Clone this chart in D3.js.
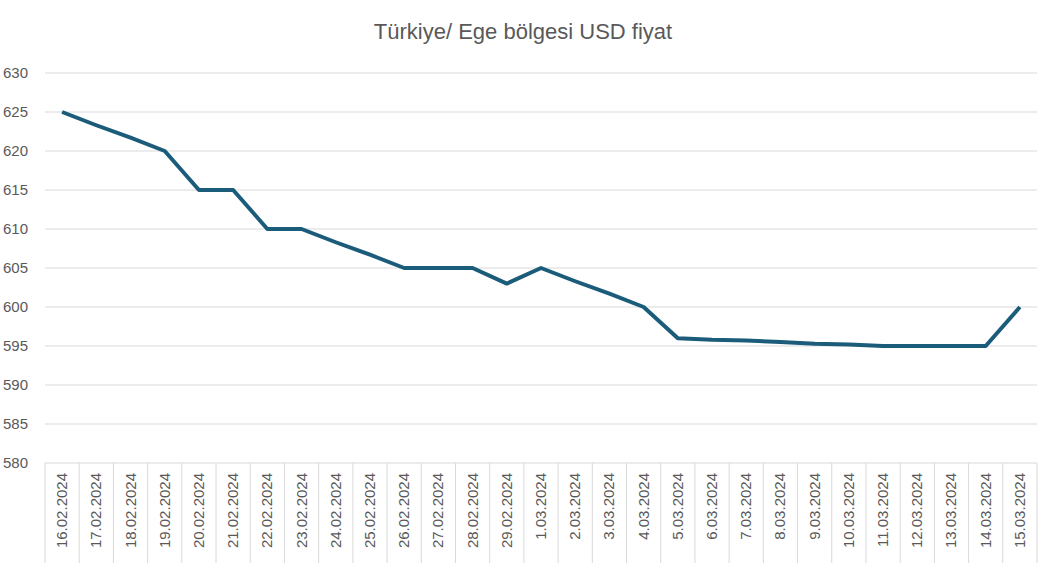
<!DOCTYPE html>
<html><head><meta charset="utf-8">
<script src="https://cdn.jsdelivr.net/npm/d3@7"></script>
<style>body{margin:0;background:#fff}svg{font-family:"Liberation Sans",Arial,sans-serif}</style>
</head><body><div id="chart"></div>
<script>
var dates = ["16.02.2024","17.02.2024","18.02.2024","19.02.2024","20.02.2024","21.02.2024","22.02.2024","23.02.2024","24.02.2024","25.02.2024","26.02.2024","27.02.2024","28.02.2024","29.02.2024","1.03.2024","2.03.2024","3.03.2024","4.03.2024","5.03.2024","6.03.2024","7.03.2024","8.03.2024","9.03.2024","10.03.2024","11.03.2024","12.03.2024","13.03.2024","14.03.2024","15.03.2024"];
var prices = [625,623.3,621.7,620,615,615,610,610,608.3,606.7,605,605,605,603,605,603.3,601.7,600,596,595.8,595.7,595.5,595.3,595.2,595,595,595,595,600];
var yTicks = [580,585,590,595,600,605,610,615,620,625,630];

var w = 1049, h = 573;
var svg = d3.select("#chart").append("svg").attr("width", w).attr("height", h);

var x = d3.scaleBand().domain(dates).range([45, 1037]);
var y = d3.scaleLinear().domain([580, 630]).range([463, 73]);

// title
svg.append("text").attr("x", 523).attr("y", 39).attr("text-anchor", "middle")
	.attr("font-size", 22).attr("fill", "#595959").text("Türkiye/ Ege bölgesi USD fiyat");

// grid
svg.selectAll(".grid").data(yTicks).enter().append("line")
	.attr("x1", 45).attr("x2", 1037)
	.attr("y1", function(d){ return y(d); }).attr("y2", function(d){ return y(d); })
	.attr("stroke", "#d9d9d9").attr("stroke-width", 1);

// y labels
svg.selectAll(".ylab").data(yTicks).enter().append("text")
	.attr("x", 3).attr("y", function(d){ return y(d) + 5; })
	.attr("font-size", 15).attr("fill", "#595959").text(function(d){ return d; });

// x axis ticks at band boundaries
var bounds = dates.map(function(d){ return x(d); }).concat([x.range()[1]]);
svg.selectAll(".xt").data(bounds).enter().append("line")
	.attr("x1", function(d){ return d; }).attr("x2", function(d){ return d; })
	.attr("y1", 463).attr("y2", 563).attr("stroke", "#d9d9d9");

// x labels
svg.selectAll(".xlab").data(dates).enter().append("text")
	.attr("transform", function(d){ return "translate(" + (x(d) + x.bandwidth()/2 + 5) + ",473) rotate(-90)"; })
	.attr("text-anchor", "end").attr("font-size", 15).attr("fill", "#595959")
	.text(function(d){ return d; });

// line
var line = d3.line()
	.x(function(d, i){ return x(dates[i]) + x.bandwidth()/2; })
	.y(function(d){ return y(d); });
svg.append("path").datum(prices).attr("d", line)
	.attr("fill", "none").attr("stroke", "#1a5c7a").attr("stroke-width", 4)
	.attr("stroke-linejoin", "round");
</script>
</body></html>
